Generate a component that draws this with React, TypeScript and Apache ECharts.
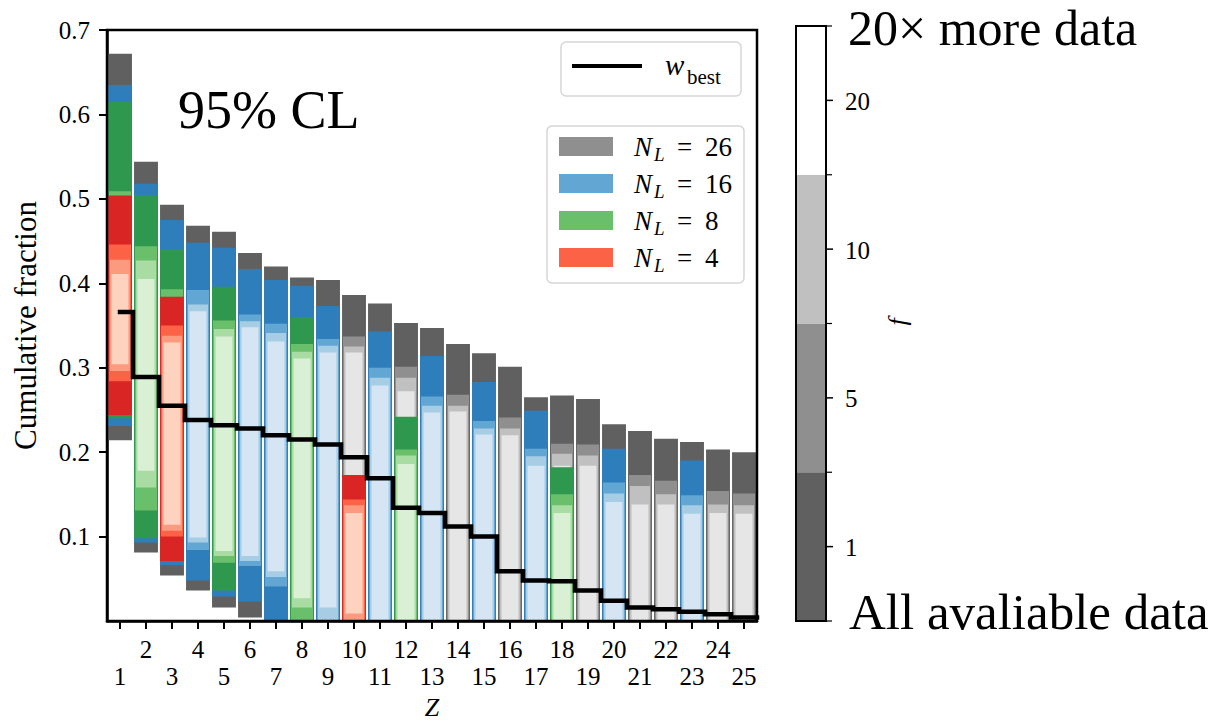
import React, { useEffect, useRef } from 'react';
import * as echarts from 'echarts';

const FONT = '"Liberation Serif", "Times New Roman", serif';

// categories (atomic number Z)
const Z_VALUES = [1, 2, 3, 4, 5, 6, 7, 8, 9, 10, 11, 12, 13, 14, 15, 16, 17, 18, 19, 20, 21, 22, 23, 24, 25];

// y tick values shown
const Y_TICKS = [0.1, 0.2, 0.3, 0.4, 0.5, 0.6, 0.7];

// best-fit cumulative fraction per Z
const W_BEST = [0.366, 0.289, 0.255, 0.238, 0.232, 0.228, 0.220, 0.215, 0.209, 0.194, 0.169, 0.134, 0.128,
  0.112, 0.100, 0.059, 0.048, 0.047, 0.036, 0.024, 0.016, 0.014, 0.011, 0.008, 0.004];

// f levels (data multiplier) shown on the colour bar
const F_LEVELS = [1, 5, 10, 20];

// N_L values of the legend
const NL_VALUES = [26, 16, 8, 4];

// 95% CL intervals: [Z, f, low, high]
const NL26 = [
  [1, 1, 0.214, 0.672],
  [2, 1, 0.081, 0.544],
  [3, 1, 0.054, 0.493],
  [4, 1, 0.036, 0.468],
  [5, 1, 0.016, 0.461],
  [6, 1, 0.004, 0.436],
  [7, 1, 0, 0.420],
  [8, 1, 0, 0.407],
  [9, 1, 0, 0.404],
  [10, 1, 0, 0.386], [10, 5, 0, 0.337], [10, 10, 0, 0.325], [10, 20, 0, 0.318],
  [11, 1, 0, 0.376],
  [12, 1, 0, 0.353], [12, 5, 0, 0.301], [12, 10, 0, 0.288], [12, 20, 0, 0.272],
  [13, 1, 0, 0.347],
  [14, 1, 0, 0.328], [14, 5, 0, 0.268], [14, 10, 0, 0.255], [14, 20, 0, 0.248],
  [15, 1, 0, 0.317],
  [16, 1, 0, 0.301], [16, 5, 0, 0.241], [16, 10, 0, 0.228], [16, 20, 0, 0.220],
  [17, 1, 0, 0.265],
  [18, 1, 0, 0.267], [18, 5, 0, 0.210], [18, 10, 0, 0.198], [18, 20, 0, 0.184],
  [19, 1, 0, 0.263], [19, 5, 0, 0.209], [19, 10, 0, 0.196], [19, 20, 0, 0.184],
  [20, 1, 0, 0.233],
  [21, 1, 0, 0.225], [21, 5, 0, 0.173], [21, 10, 0, 0.160], [21, 20, 0, 0.138],
  [22, 1, 0, 0.216], [22, 5, 0, 0.166], [22, 10, 0, 0.150], [22, 20, 0, 0.138],
  [23, 1, 0, 0.212],
  [24, 1, 0, 0.203], [24, 5, 0, 0.154], [24, 10, 0, 0.138], [24, 20, 0, 0.128],
  [25, 1, 0, 0.200], [25, 5, 0, 0.151], [25, 10, 0, 0.137], [25, 20, 0, 0.127],
];

const NL16 = [
  [1, 1, 0.231, 0.635],
  [2, 1, 0.093, 0.518],
  [3, 1, 0.066, 0.475],
  [4, 1, 0.048, 0.448], [4, 5, 0.084, 0.392], [4, 10, 0.093, 0.375], [4, 20, 0.099, 0.367],
  [5, 1, 0.029, 0.442],
  [6, 1, 0.023, 0.417], [6, 5, 0.065, 0.363], [6, 10, 0.071, 0.355], [6, 20, 0.077, 0.348],
  [7, 1, 0, 0.404], [7, 5, 0.041, 0.352], [7, 10, 0.052, 0.341], [7, 20, 0.059, 0.331],
  [8, 1, 0, 0.397],
  [9, 1, 0, 0.373], [9, 5, 0, 0.334], [9, 10, 0, 0.326], [9, 20, 0.016, 0.318],
  [11, 1, 0, 0.343], [11, 5, 0, 0.300], [11, 10, 0, 0.288], [11, 20, 0, 0.279],
  [13, 1, 0, 0.314], [13, 5, 0, 0.266], [13, 10, 0, 0.255], [13, 20, 0, 0.247],
  [15, 1, 0, 0.283], [15, 5, 0, 0.237], [15, 10, 0, 0.228], [15, 20, 0, 0.221],
  [17, 1, 0, 0.249], [17, 5, 0, 0.204], [17, 10, 0, 0.195], [17, 20, 0, 0.184],
  [20, 1, 0, 0.204], [20, 5, 0, 0.164], [20, 10, 0, 0.151], [20, 20, 0, 0.141],
  [23, 1, 0, 0.190], [23, 5, 0, 0.149], [23, 10, 0, 0.137], [23, 20, 0, 0.127],
];

const NL8 = [
  [1, 1, 0.240, 0.615], [1, 5, 0.260, 0.509],
  [2, 1, 0.098, 0.504], [2, 5, 0.131, 0.444], [2, 10, 0.158, 0.427], [2, 20, 0.178, 0.405],
  [3, 1, 0.075, 0.440], [3, 5, 0.090, 0.393],
  [5, 1, 0.036, 0.396], [5, 5, 0.069, 0.356], [5, 10, 0.077, 0.346], [5, 20, 0.083, 0.337],
  [8, 1, 0, 0.360], [8, 5, 0, 0.328], [8, 10, 0.016, 0.319], [8, 20, 0.027, 0.311],
  [12, 1, 0, 0.242], [12, 5, 0, 0.203], [12, 10, 0, 0.196], [12, 20, 0, 0.186],
  [18, 1, 0, 0.182], [18, 5, 0, 0.150], [18, 10, 0, 0.137], [18, 20, 0, 0.128],
];

const NL4 = [
  [1, 1, 0.244, 0.504], [1, 5, 0.284, 0.446], [1, 10, 0.296, 0.428], [1, 20, 0.304, 0.411],
  [3, 1, 0.071, 0.384], [3, 5, 0.100, 0.350], [3, 10, 0.107, 0.338], [3, 20, 0.114, 0.330],
  [10, 1, 0, 0.173], [10, 5, 0, 0.144], [10, 10, 0, 0.137], [10, 20, 0.009, 0.128],
];

// colours per N_L, for f = 1, 5, 10, 20
const GREYS = ['#606060', '#8f8f8f', '#c0c0c0', '#e6e6e6'];
const BLUES = ['#2f7ebc', '#62a6d3', '#a6cde4', '#d5e5f4'];
const GREENS = ['#2f984f', '#6abf6b', '#a8dca2', '#daf0d5'];
const REDS = ['#d92624', '#fc6246', '#fc9a7f', '#fdd3bf'];
const COLORBAR_COLORS = ['#606060', '#8f8f8f', '#c0c0c0', '#ffffff'];

const WIDTH_FRAC = [0.92, 0.85, 0.77, 0.65];

function fIndex(f: number) {
  return F_LEVELS.indexOf(f);
}

function makeSeries(name: string, rows: number[][], palette: string[]) {
  return {
    type: 'custom',
    name,
    xAxisIndex: 0,
    yAxisIndex: 0,
    z: 2,
    silent: true,
    encode: { x: 0, y: [2, 3] },
    data: rows.map(([z, f, lo, hi]) => [z - 1, fIndex(f), lo, hi]),
    renderItem: (params: any, api: any) => {
      const xi = api.value(0);
      const fi = api.value(1);
      const top = api.coord([xi, api.value(3)]);
      const bot = api.coord([xi, api.value(2)]);
      const band = api.size([1, 0])[0];
      const w = band * WIDTH_FRAC[fi];
      return {
        type: 'rect',
        shape: { x: top[0] - w / 2, y: top[1], width: w, height: bot[1] - top[1] },
        style: { fill: palette[fi] },
      };
    },
  };
}

function buildOption() {
  const plotL = 107, plotT = 30, plotW = 650, plotH = 591;
  const cbX = 796, cbW = 30, cbTop = 26, cbBot = 621;
  const segH = (cbBot - cbTop) / F_LEVELS.length;

  const graphics: any[] = [];
  // frame (spines)
  graphics.push({
    type: 'rect', z: 100, silent: true,
    shape: { x: plotL, y: plotT, width: plotW, height: plotH },
    style: { fill: 'none', stroke: '#000', lineWidth: 2.5 },
  });
  // 95% CL
  graphics.push({
    type: 'text', z: 100, x: 178, y: 110,
    style: { text: '95% CL', fontFamily: FONT, fontSize: 54, fill: '#000', align: 'left', verticalAlign: 'middle' },
  });
  // legend 1 (w_best)
  graphics.push({
    type: 'rect', z: 101,
    shape: { x: 561, y: 42, width: 180, height: 54, r: 5 },
    style: { fill: '#fff', stroke: '#d6d6d6', lineWidth: 1.5 },
  });
  graphics.push({
    type: 'line', z: 102,
    shape: { x1: 572, y1: 66, x2: 642, y2: 66 },
    style: { stroke: '#000', lineWidth: 4 },
  });
  graphics.push({
    type: 'text', z: 102, x: 665, y: 65,
    style: { text: 'w', fontFamily: FONT, fontStyle: 'italic', fontSize: 29, fill: '#000', align: 'left', verticalAlign: 'middle' },
  });
  graphics.push({
    type: 'text', z: 102, x: 687, y: 77,
    style: { text: 'best', fontFamily: FONT, fontSize: 21, fill: '#000', align: 'left', verticalAlign: 'middle' },
  });
  // legend 2 (N_L)
  graphics.push({
    type: 'rect', z: 101,
    shape: { x: 547, y: 126, width: 197, height: 157, r: 5 },
    style: { fill: '#fff', stroke: '#d6d6d6', lineWidth: 1.5 },
  });
  const legendPalettes = [GREYS, BLUES, GREENS, REDS];
  NL_VALUES.forEach((nl, i) => {
    const cy = 147 + i * 37;
    graphics.push({
      type: 'rect', z: 102,
      shape: { x: 559, y: cy - 10, width: 54, height: 19 },
      style: { fill: legendPalettes[i][1] },
    });
    graphics.push({
      type: 'text', z: 102, x: 634, y: cy,
      style: { text: 'N', fontFamily: FONT, fontStyle: 'italic', fontSize: 27, fill: '#000', align: 'left', verticalAlign: 'middle' },
    });
    graphics.push({
      type: 'text', z: 102, x: 654, y: cy + 7,
      style: { text: 'L', fontFamily: FONT, fontStyle: 'italic', fontSize: 19, fill: '#000', align: 'left', verticalAlign: 'middle' },
    });
    graphics.push({
      type: 'text', z: 102, x: 677, y: cy,
      style: { text: '=', fontFamily: FONT, fontSize: 27, fill: '#000', align: 'left', verticalAlign: 'middle' },
    });
    graphics.push({
      type: 'text', z: 102, x: 705, y: cy,
      style: { text: String(nl), fontFamily: FONT, fontSize: 27, fill: '#000', align: 'left', verticalAlign: 'middle' },
    });
  });
  // colour bar
  F_LEVELS.forEach((f, i) => {
    const y0 = cbBot - (i + 1) * segH;
    graphics.push({
      type: 'rect', z: 50,
      shape: { x: cbX, y: y0, width: cbW, height: segH },
      style: { fill: COLORBAR_COLORS[i] },
    });
    const cy = y0 + segH / 2;
    graphics.push({
      type: 'line', z: 52,
      shape: { x1: cbX + cbW, y1: cy, x2: cbX + cbW + 7, y2: cy },
      style: { stroke: '#000', lineWidth: 1.5 },
    });
    graphics.push({
      type: 'line', z: 52,
      shape: { x1: cbX + cbW, y1: y0, x2: cbX + cbW + 6, y2: y0 },
      style: { stroke: '#000', lineWidth: 1.2 },
    });
    graphics.push({
      type: 'text', z: 52, x: 845, y: cy + 1,
      style: { text: String(f), fontFamily: FONT, fontSize: 25, fill: '#000', align: 'left', verticalAlign: 'middle' },
    });
  });
  graphics.push({
    type: 'line', z: 52,
    shape: { x1: cbX + cbW, y1: cbBot, x2: cbX + cbW + 6, y2: cbBot },
    style: { stroke: '#000', lineWidth: 1.2 },
  });
  graphics.push({
    type: 'rect', z: 51,
    shape: { x: cbX, y: cbTop, width: cbW, height: cbBot - cbTop },
    style: { fill: 'none', stroke: '#000', lineWidth: 2 },
  });
  graphics.push({
    type: 'text', z: 52, x: 897, y: 322, rotation: Math.PI / 2,
    style: { text: 'f', fontFamily: FONT, fontStyle: 'italic', fontSize: 26, fill: '#000', align: 'center', verticalAlign: 'middle' },
  });
  graphics.push({
    type: 'text', z: 52, x: 848, y: 28,
    style: { text: '20\u00d7 more data', fontFamily: FONT, fontSize: 50, fill: '#000', align: 'left', verticalAlign: 'middle' },
  });
  graphics.push({
    type: 'text', z: 52, x: 849, y: 612,
    style: { text: 'All avaliable data', fontFamily: FONT, fontSize: 51, fill: '#000', align: 'left', verticalAlign: 'middle' },
  });

  const stepData = W_BEST.map((v, i) => [Z_VALUES[i], v]);
  stepData.push([Z_VALUES[Z_VALUES.length - 1] + 0.5, W_BEST[W_BEST.length - 1]]);

  return {
    animation: false,
    backgroundColor: '#fff',
    grid: {
      left: plotL, top: plotT, width: plotW, height: plotH,
      containLabel: false, outerBoundsMode: 'none',
    },
    xAxis: [
      {
        type: 'category',
        data: Z_VALUES.map(String),
        boundaryGap: true,
        axisLine: { show: true, onZero: false, lineStyle: { color: '#000', width: 2.5 } },
        axisTick: { show: true, alignWithLabel: true, interval: 0, length: 8, lineStyle: { color: '#000', width: 2 } },
        axisLabel: {
          interval: 0,
          formatter: (v: string) => (Number(v) % 2 === 1 ? '\n' + v : v),
          fontFamily: FONT, fontSize: 25, color: '#000', lineHeight: 27, margin: 15,
        },
        splitLine: { show: false },
        name: 'Z',
        nameLocation: 'middle',
        nameGap: 73,
        nameTextStyle: { fontFamily: FONT, fontStyle: 'italic', fontSize: 26, color: '#000' },
      },
      { type: 'value', min: 0.5, max: 25.5, show: false },
    ],
    yAxis: {
      type: 'value',
      min: 0,
      max: 0.7,
      interval: 0.1,
      axisLine: { show: true, lineStyle: { color: '#000', width: 2.5 } },
      axisTick: { show: true, length: 8, customValues: Y_TICKS, lineStyle: { color: '#000', width: 2 } },
      axisLabel: {
        customValues: Y_TICKS,
        formatter: (v: number) => v.toFixed(1),
        fontFamily: FONT, fontSize: 25, color: '#000', margin: 17,
      },
      splitLine: { show: false },
      name: 'Cumulative fraction',
      nameLocation: 'middle',
      nameGap: 66,
      nameTextStyle: { fontFamily: FONT, fontSize: 31, color: '#000' },
    },
    series: [
      makeSeries('N_L = 26', NL26, GREYS),
      makeSeries('N_L = 16', NL16, BLUES),
      makeSeries('N_L = 8', NL8, GREENS),
      makeSeries('N_L = 4', NL4, REDS),
      {
        type: 'line',
        name: 'w_best',
        xAxisIndex: 1,
        yAxisIndex: 0,
        data: stepData,
        step: 'middle',
        symbol: 'none',
        silent: true,
        z: 10,
        lineStyle: { color: '#000', width: 4.5, cap: 'square', join: 'miter' },
      },
    ],
    graphic: graphics,
  };
}

export default function App() {
  const ref = useRef<HTMLDivElement>(null);
  useEffect(() => {
    const chart = echarts.init(ref.current!, null, { renderer: 'svg' });
    chart.setOption(buildOption() as any);
    return () => chart.dispose();
  }, []);
  return (
    <div
      ref={ref}
      style={{ position: 'fixed', left: 0, top: 0, width: 1221, height: 726, background: '#fff' }}
    />
  );
}
